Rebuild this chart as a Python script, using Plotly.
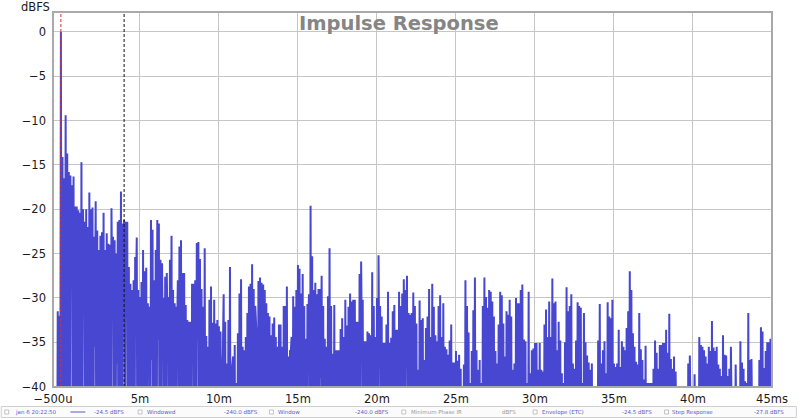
import plotly.graph_objects as go

# ---------------- data ----------------
SAMPLE_START_MS = -0.5
SAMPLE_STEP_MS = 0.1
FLOOR_DB = -60.0

# peak level (dBFS) of the impulse response in each 0.1 ms bin, from -0.5 ms to 45.0 ms
peak_db = [
    -60, -60, -60, -31.5, -32.0,                                                   # -0.5 .. -0.1
    0.0, -14.1, -16.5, -9.4, -13.7, -15.8, -16.2, -17.3, -16.3, -19.7,           # 0
    -19.7, -20.1, -20.4, -14.7, -20.0, -21.4, -20.0, -22.0, -18.1, -20.0,        # 1
    -19.8, -23.1, -19.1, -22.4, -24.6, -23.0, -22.6, -20.4, -24.6, -22.7,        # 2
    -23.9, -24.0, -19.9, -23.1, -23.5, -25.0, -21.4, -21.2, -18.0, -21.6,        # 3
    -21.2, -21.4, -21.4, -26.5, -28.4, -29.1, -28.0, -25.4, -23.2, -29.1,        # 4
    -29.9, -28.2, -24.6, -27.0, -26.6, -30.6, -31.0, -21.2, -22.3, -28.0,        # 5
    -24.6, -21.2, -21.6, -25.7, -26.1, -30.0, -27.6, -27.2, -29.9, -25.7,        # 6
    -23.0, -29.1, -30.6, -31.0, -28.0, -24.2, -23.5, -27.2, -27.2, -30.8,        # 7
    -32.5, -32.7, -32.7, -28.4, -28.4, -28.0, -23.8, -23.7, -25.6, -29.0,        # 8
    -31.0, -24.4, -34.3, -35.5, -30.2, -28.7, -32.8, -30.2, -32.9, -32.5,        # 9
    -33.2, -33.8, -39.0, -29.6, -32.7, -37.4, -32.5, -26.5, -38.5, -36.6,        # 10
    -35.3, -39.6, -34.0, -29.5, -27.9, -35.5, -35.9, -34.4, -31.7, -28.7,        # 11
    -28.4, -26.2, -29.0, -30.9, -35.0, -28.1, -27.7, -28.3, -28.5, -29.1,        # 12
    -30.6, -31.7, -32.1, -34.2, -32.9, -32.2, -34.4, -35.5, -33.0, -33.0,        # 13
    -35.5, -30.9, -30.9, -28.7, -36.6, -35.9, -34.4, -29.8, -31.0, -29.1,        # 14
    -26.3, -26.7, -29.5, -27.3, -30.9, -34.6, -30.7, -29.6, -19.6, -25.3,        # 15
    -29.1, -28.3, -29.6, -29.0, -29.0, -27.5, -30.9, -34.6, -35.5, -29.8,        # 16
    -24.4, -30.9, -36.3, -30.8, -35.9, -35.9, -35.9, -33.5, -32.3, -34.4,        # 17
    -30.2, -33.1, -31.0, -29.5, -30.4, -30.2, -30.2, -32.7, -32.7, -27.3,        # 18
    -25.9, -30.2, -34.9, -34.9, -33.8, -34.0, -34.2, -27.1, -30.9, -34.4,        # 19
    -30.0, -25.2, -30.9, -32.1, -35.1, -35.1, -33.0, -29.3, -35.1, -34.5,        # 20
    -31.5, -30.8, -33.6, -33.6, -29.3, -30.9, -29.5, -27.9, -29.1, -27.5,        # 21
    -31.7, -31.9, -31.7, -29.4, -30.9, -32.9, -38.1, -30.3, -32.5, -32.3,        # 22
    -37.0, -33.4, -32.1, -29.0, -34.4, -28.4, -31.0, -34.2, -34.9, -30.9,        # 23
    -29.7, -34.4, -30.6, -35.5, -35.8, -36.4, -34.8, -33.0, -37.3, -37.3,        # 24
    -36.0, -37.1, -36.4, -38.0, -41.0, -37.5, -28.0, -30.9, -33.9, -39.6,        # 25
    -36.0, -31.4, -27.7, -35.9, -38.1, -37.0, -39.6, -30.9, -27.7, -29.9,        # 26
    -31.1, -29.1, -29.3, -30.4, -32.1, -36.0, -37.4, -33.0, -29.3, -29.7,        # 27
    -32.9, -36.6, -31.5, -31.9, -30.2, -32.1, -38.1, -37.4, -30.0, -30.6,        # 28
    -30.6, -29.1, -28.5, -34.7, -34.9, -39.6, -29.3, -38.5, -35.9, -35.7,        # 29
    -35.1, -35.1, -38.1, -35.1, -38.1, -38.3, -33.0, -31.3, -34.4, -30.4,        # 30
    -34.4, -27.8, -30.6, -30.4, -35.9, -32.7, -34.8, -38.5, -39.6, -35.0,        # 31
    -28.8, -31.5, -30.9, -29.6, -37.4, -38.0, -34.8, -30.5, -30.9, -31.1,        # 32
    -39.6, -31.7, -35.0, -36.5, -37.3, -38.1, -37.4, -42.0, -45.0, -40.5,        # 33
    -34.8, -30.7, -37.4, -35.9, -34.9, -38.5, -30.5, -32.1, -32.3, -30.2,        # 34
    -37.4, -37.8, -37.4, -33.6, -37.8, -34.9, -35.5, -35.9, -33.4, -31.5,        # 35
    -27.0, -29.1, -34.0, -35.5, -37.2, -37.5, -31.7, -35.8, -37.0, -39.2,        # 36
    -35.4, -39.6, -39.6, -39.6, -39.6, -38.0, -34.8, -36.2, -38.0, -35.3,        # 37
    -35.3, -35.1, -35.1, -33.6, -36.2, -31.8, -36.9, -38.0, -36.6, -38.3,        # 38
    -45, -45, -45, -45, -45, -45, -45, -37.4, -36.5, -45,                        # 39
    -45, -38.6, -45, -45, -34.4, -35.3, -35.5, -35.9, -36.6, -37.4,              # 40
    -35.5, -36.0, -32.6, -35.6, -36.0, -35.5, -37.5, -38.0, -38.8, -34.2,        # 41
    -36.4, -36.5, -38.8, -38.0, -35.5, -45, -45, -37.5, -45, -45,                # 42
    -34.9, -37.3, -38.0, -39.4, -39.6, -31.7, -37.0, -36.9, -45, -45,            # 43
    -45, -45, -37.0, -33.3, -33.8, -37.9, -36.0, -35.0, -35.0, -34.6,            # 44
    -34.5,                                                                         # 45
]

# bins whose following trough stays shallow (visible white gaps in the fill)
shallow_trough_ms = [0.6, 1.4, 2.1, 3.2, 3.5, 3.9, 4.1, 4.7, 5.5, 5.7, 6.1, 6.4, 6.7,
                     7.3, 8.3, 8.6, 10.2, 10.8, 12.3, 14.5, 15.6, 16.4, 19.0, 20.1, 21.8]
shallow_trough_db = [-28.4, -28.5, -35.5, -30.4, -37.4, -32.0, -29.0, -30.0, -35.8, -37.0,
                     -34.7, -35.5, -34.0, -34.0, -31.5, -34.7, -36.0, -37.0, -33.0, -36.0,
                     -33.0, -39.0, -36.0, -38.0, -38.0]

cursor_times_ms = [0.0, 4.0]
cursor_colors = ["#d9302c", "#111111"]

x_tick_vals = [-0.5, 5, 10, 15, 20, 25, 30, 35, 40, 45]
x_tick_text = ["\u2212500u", "5m", "10m", "15m", "20m", "25m", "30m", "35m", "40m", "45ms"]
y_tick_vals = [0, -5, -10, -15, -20, -25, -30, -35, -40]
y_tick_text = ["0", "\u22125", "\u221210", "\u221215", "\u221220", "\u221225", "\u221230", "\u221235", "\u221240"]

legend_items = [
    ("jan 6 20:22:50", 12, "#5a5acc"), ("-24.5 dBFS", 92, "#5a5acc"),
    ("Windowed", 145, "#5a5acc"), ("-240.0 dBFS", 222, "#5a5acc"),
    ("Window", 277, "#5a5acc"), ("-240.0 dBFS", 354, "#5a5acc"),
    ("Minimum Phase IR", 410, "#9a9a9a"), ("dBFS", 502, "#9a9a9a"),
    ("Envelope (ETC)", 542, "#5a5acc"), ("-24.5 dBFS", 622, "#5a5acc"),
    ("Step Response", 673, "#5a5acc"), ("-27.8 dBFS", 755, "#5a5acc"),
]
checkbox_x = [4, 138, 270, 403, 535, 667]

# ---------------- build trace (min/max envelope) ----------------
shallow = {round(t, 1): v for t, v in zip(shallow_trough_ms, shallow_trough_db)}
xs, ys = [], []
for i, p in enumerate(peak_db):
    t = round(SAMPLE_START_MS + SAMPLE_STEP_MS * i, 2)
    xs.append(t)
    ys.append(p)
    xs.append(t + SAMPLE_STEP_MS / 2)
    ys.append(shallow.get(round(t, 1), FLOOR_DB))

# ---------------- layout helpers ----------------
W_FIG, H_FIG = 800, 419
L, R, T, B = 52.5, 775.0, 12.0, 387.0
PW, PH = R - L, B - T


def px(x):
    return (x - L) / PW


def py(y):
    return (B - y) / PH


fig = go.Figure()
fig.add_trace(go.Scatter(x=xs, y=ys, mode="lines",
                         line=dict(color="#4747d1", width=2),
                         hoverinfo="skip", showlegend=False))

shapes = []
for t, c in zip(cursor_times_ms, cursor_colors):
    shapes.append(dict(type="line", xref="x", yref="paper", x0=t, x1=t, y0=0, y1=1,
                       line=dict(color=c, width=1, dash="3px,2px"), layer="above"))
# plot frame
shapes.append(dict(type="rect", xref="paper", yref="paper", x0=0, x1=1, y0=0, y1=1,
                   line=dict(color="#a9a9a9", width=2), layer="above"))
# status bar
shapes.append(dict(type="rect", xref="paper", yref="paper",
                   x0=px(0.5), x1=px(799.5), y0=py(417.5), y1=py(406.5),
                   fillcolor="#fbfbfb", line=dict(color="#cfcfcf", width=1), layer="above"))
for cx in checkbox_x:
    shapes.append(dict(type="rect", xref="paper", yref="paper",
                       x0=px(cx), x1=px(cx + 4), y0=py(414), y1=py(410),
                       fillcolor="#ffffff", line=dict(color="#b5b5b5", width=0.8), layer="above"))
shapes.append(dict(type="line", xref="paper", yref="paper", x0=px(70), x1=px(85),
                   y0=py(412), y1=py(412), line=dict(color="#5a5acc", width=1), layer="above"))

annotations = [
    dict(text="<b>Impulse Response</b>", xref="paper", yref="paper", x=px(400), y=py(23.5),
         xanchor="center", yanchor="middle", showarrow=False,
         font=dict(family="DejaVu Sans", size=19.5, color="#858585")),
    dict(text="dBFS", xref="paper", yref="paper", x=px(35), y=py(7.5),
         xanchor="center", yanchor="middle", showarrow=False, borderpad=0,
         font=dict(family="DejaVu Sans", size=11.5, color="#1a1a1a")),
]
for txt, x0, col in legend_items:
    annotations.append(dict(text=txt, xref="paper", yref="paper", x=px(x0), y=py(412),
                            xanchor="left", yanchor="middle", showarrow=False,
                            font=dict(family="DejaVu Sans", size=5.5, color=col)))

fig.update_layout(
    width=W_FIG, height=H_FIG,
    margin=dict(l=L, r=W_FIG - R, t=T, b=H_FIG - B, pad=0),
    paper_bgcolor="#ffffff", plot_bgcolor="#ffffff",
    shapes=shapes, annotations=annotations,
    font=dict(family="DejaVu Sans", size=11.5, color="#1a1a1a"),
)
fig.update_xaxes(range=[-0.5, 45.0], tickvals=x_tick_vals, ticktext=x_tick_text,
                 showgrid=True, gridcolor="#c6c6c6", gridwidth=1, zeroline=False,
                 showline=False, ticks="", ticklabelstandoff=3,
                 tickfont=dict(family="DejaVu Sans", size=11.5, color="#1a1a1a"))
fig.update_yaxes(range=[-40.05, 2.25], tickvals=y_tick_vals, ticktext=y_tick_text,
                 showgrid=True, gridcolor="#c6c6c6", gridwidth=1, zeroline=False,
                 showline=False, ticks="", ticklabelstandoff=6,
                 tickfont=dict(family="DejaVu Sans", size=11.5, color="#1a1a1a"))

fig.write_html("out.html", config={"displayModeBar": False},
               post_script="document.body.style.margin='0';document.body.style.padding='0';")
